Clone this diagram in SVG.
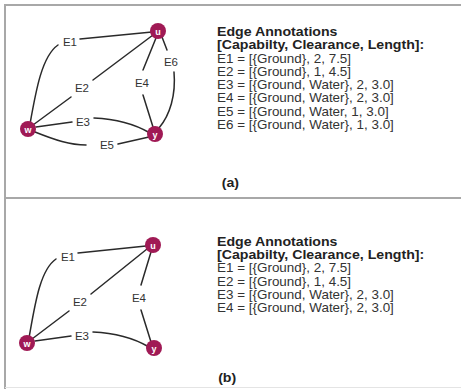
<svg xmlns="http://www.w3.org/2000/svg" width="461" height="389" viewBox="0 0 461 389">
  <style>
    .frame { stroke: #a8a8a8; stroke-width: 2; fill: none; }
    .edge { stroke: #2a2a2a; stroke-width: 1.5; fill: none; stroke-linecap: round; }
    .node circle { fill: #a01a55; }
    .node text { fill: #ffffff; font-family: "Liberation Sans", Arial, sans-serif; font-size: 9px; font-weight: bold; text-anchor: middle; }
    .elabel { fill: #333333; font-family: "Liberation Sans", Arial, sans-serif; font-size: 11.5px; text-anchor: middle; }
    .title { fill: #222222; font-family: "Liberation Sans", Arial, sans-serif; font-size: 12px; font-weight: bold; }
    .line { fill: #333333; font-family: "Liberation Sans", Arial, sans-serif; font-size: 12px; }
  </style>

  <rect x="0" y="0" width="461" height="389" fill="#ffffff"/>

  <!-- panel frames -->
  <g id="frames">
    <path class="frame" d="M5 389 V5 H461"/>
    <path class="frame" d="M5 198 H461"/>
    <path d="M5 387.5 H461" stroke="#e4e4e4" stroke-width="1" fill="none"/>
  </g>

  <!-- panel (a): connectors -->
  <g id="edges-a">
    <path class="edge" d="M30 124 C36 90 42 56 58 45"/>
    <path class="edge" d="M80 39 L152 32"/>
    <path class="edge" d="M33 125 L71 97"/>
    <path class="edge" d="M93 80 L153 35"/>
    <path class="edge" d="M36 127 L72 122"/>
    <path class="edge" d="M94 118 C118 119 138 126 150 133"/>
    <path class="edge" d="M35 132 C55 140 70 145 86 145"/>
    <path class="edge" d="M118 144 L149 137"/>
    <path class="edge" d="M156 38 L143 70"/>
    <path class="edge" d="M143 95 L153 127"/>
    <path class="edge" d="M162 37 L167 50"/>
    <path class="edge" d="M174 72 C176 95 170 115 159 128"/>
  </g>
  <g id="edge-labels-a">
    <text class="elabel" x="70" y="46">E1</text>
    <text class="elabel" x="82" y="92">E2</text>
    <text class="elabel" x="83" y="126">E3</text>
    <text class="elabel" x="142" y="87">E4</text>
    <text class="elabel" x="107" y="149">E5</text>
    <text class="elabel" x="171" y="66">E6</text>
  </g>
  <g id="node-a-u" class="node"><circle cx="158" cy="31" r="8"/><text x="158" y="34.5">u</text></g>
  <g id="node-a-w" class="node"><circle cx="28" cy="129" r="8"/><text x="28" y="132.5">w</text></g>
  <g id="node-a-y" class="node"><circle cx="155" cy="134" r="8"/><text x="155" y="137.5">y</text></g>

  <g id="annotations-a">
    <g transform="translate(217 0) scale(1.18 1)">
      <text class="title" x="0" y="36">Edge Annotations</text>
      <text class="title" x="0" y="49">[Capabilty, Clearance, Length]:</text>
      <text class="title" x="4" y="187">(a)</text>
    </g>
    <g transform="translate(217 0) scale(1.12 1)">
      <text class="line" x="0" y="63">E1 = [{Ground}, 2, 7.5]</text>
      <text class="line" x="0" y="76">E2 = [{Ground}, 1, 4.5]</text>
      <text class="line" x="0" y="89">E3 = [{Ground, Water}, 2, 3.0]</text>
      <text class="line" x="0" y="102">E4 = [{Ground, Water}, 2, 3.0]</text>
      <text class="line" x="0" y="116">E5 = [{Ground, Water, 1, 3.0]</text>
      <text class="line" x="0" y="129">E6 = [{Ground, Water}, 1, 3.0]</text>
    </g>
  </g>

  <!-- panel (b): connectors -->
  <g id="edges-b">
    <path class="edge" d="M29 338 C35 304 40 270 56 259"/>
    <path class="edge" d="M78 253 L146 246"/>
    <path class="edge" d="M32 339 L69 311"/>
    <path class="edge" d="M91 294 L147 249"/>
    <path class="edge" d="M35 341 L71 336"/>
    <path class="edge" d="M93 332 C117 333 137 340 149 347"/>
    <path class="edge" d="M151 252 L141 285"/>
    <path class="edge" d="M141 310 L151 342"/>
  </g>
  <g id="edge-labels-b">
    <text class="elabel" x="68" y="261">E1</text>
    <text class="elabel" x="80" y="306">E2</text>
    <text class="elabel" x="82" y="340">E3</text>
    <text class="elabel" x="139" y="302">E4</text>
  </g>
  <g id="node-b-u" class="node"><circle cx="153" cy="245" r="8"/><text x="153" y="248.5">u</text></g>
  <g id="node-b-w" class="node"><circle cx="27" cy="343" r="8"/><text x="27" y="346.5">w</text></g>
  <g id="node-b-y" class="node"><circle cx="154" cy="348" r="8"/><text x="154" y="351.5">y</text></g>

  <g id="annotations-b">
    <g transform="translate(217 0) scale(1.18 1)">
      <text class="title" x="0" y="246">Edge Annotations</text>
      <text class="title" x="0" y="259">[Capabilty, Clearance, Length]:</text>
      <text class="title" x="1" y="382">(b)</text>
    </g>
    <g transform="translate(217 0) scale(1.12 1)">
      <text class="line" x="0" y="272">E1 = [{Ground}, 2, 7.5]</text>
      <text class="line" x="0" y="286">E2 = [{Ground}, 1, 4.5]</text>
      <text class="line" x="0" y="299">E3 = [{Ground, Water}, 2, 3.0]</text>
      <text class="line" x="0" y="312">E4 = [{Ground, Water}, 2, 3.0]</text>
    </g>
  </g>
</svg>
